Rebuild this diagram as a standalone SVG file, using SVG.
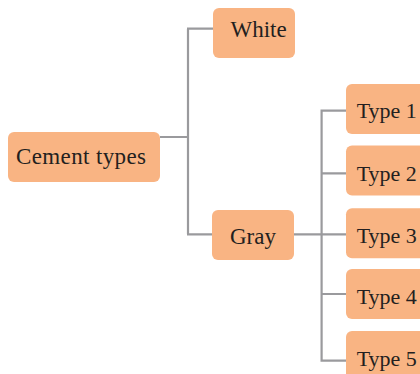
<svg xmlns="http://www.w3.org/2000/svg" width="420" height="374" viewBox="0 0 420 374">
<style>
.box{fill:#f9b483}
.t{font-family:"Liberation Serif","Times New Roman",serif;font-size:22px;fill:#231f20}
.l{font-size:23px}
.c{fill:none;stroke:#9a9a9d;stroke-width:2.2}
</style>
<rect width="420" height="374" fill="#ffffff"/>
<g id="connectors">
<path class="c" d="M160 137H188M188 28.7V234.3M187 28.7H213M187 234.3H212"/>
<path class="c" d="M294 234.3H346M321.6 110.7V361M320.5 110.7H346M321.6 173.3H346M321.6 294H346M320.5 360.7H346"/>
</g>
<g id="cement"><rect class="box" x="8" y="132" width="152" height="50" rx="6"/><text class="t l" x="16" y="164" textLength="130" lengthAdjust="spacing">Cement types</text></g>
<g id="white"><rect class="box" x="213" y="8" width="82" height="50" rx="6"/><text class="t l" x="230.5" y="37.3">White</text></g>
<g id="gray"><rect class="box" x="212" y="210" width="82" height="50" rx="6"/><text class="t l" x="230" y="244">Gray</text></g>
<g id="type1"><rect class="box" x="346" y="84" width="90" height="50" rx="6"/><text class="t" x="356.7" y="118.3">Type 1</text></g>
<g id="type2"><rect class="box" x="346" y="145.5" width="90" height="50" rx="6"/><text class="t" x="356.7" y="180.5">Type 2</text></g>
<g id="type3"><rect class="box" x="346" y="208.3" width="90" height="50" rx="6"/><text class="t" x="356.7" y="243.3">Type 3</text></g>
<g id="type4"><rect class="box" x="346" y="269" width="90" height="50" rx="6"/><text class="t" x="356.7" y="304">Type 4</text></g>
<g id="type5"><rect class="box" x="346" y="331" width="90" height="50" rx="6"/><text class="t" x="356.7" y="366">Type 5</text></g>
</svg>
